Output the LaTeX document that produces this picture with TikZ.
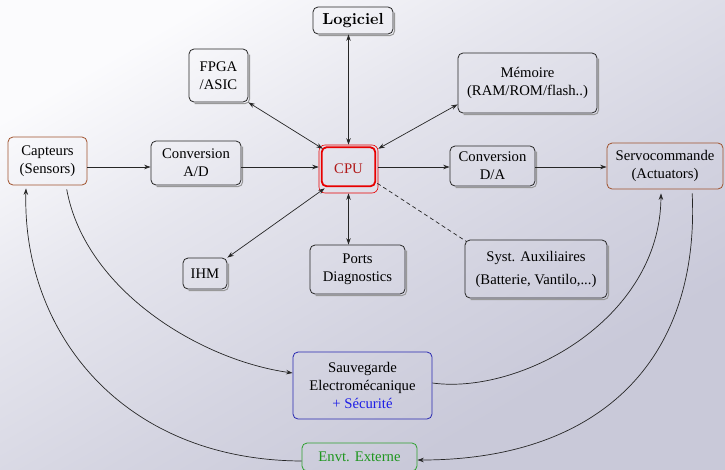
\documentclass[tikz,border=0pt]{standalone}
\usepackage{fontspec}
\setmainfont{Liberation Serif}
\newfontfamily\lmbold[Extension=.otf]{lmroman10-bold}
\usetikzlibrary{arrows.meta,calc}

% palette
\definecolor{bgA}{HTML}{FBFBFD}
\definecolor{bgB}{HTML}{E6E6EE}
\definecolor{bgC}{HTML}{D4D4E1}
\definecolor{bgD}{HTML}{C9C9D9}
\definecolor{brownline}{HTML}{A0522D}
\definecolor{blueline}{HTML}{2828B0}
\definecolor{bluetext}{HTML}{1E1EE6}
\definecolor{greenline}{HTML}{2EA02E}
\definecolor{greentext}{HTML}{1E961E}
\definecolor{cpured}{HTML}{E80000}
\definecolor{cputext}{HTML}{B01818}

\pgfdeclarehorizontalshading{backdrop}{100bp}{color(0bp)=(bgA); color(25bp)=(bgA);
  color(40bp)=(bgB); color(57bp)=(bgC); color(70bp)=(bgD); color(100bp)=(bgD)}

\tikzset{
  box/.style={draw=black!85, line width=0.8pt, rounded corners=5pt, align=center,
    inner sep=0pt, font=\fontsize{14.7}{18}\selectfont},
  shadowline/.style={draw=black!40, line width=1pt, rounded corners=5pt},
  link/.style={line width=0.7pt, draw=black!85, >={Stealth[length=6.5pt,width=4.5pt]}},
}

% thin drop shadow along the bottom and right edges of a box
\newcommand\boxshadow[1]{%
  \draw[shadowline] ([xshift=6pt,yshift=-1.3pt]#1.south west)
    -- ([xshift=1.3pt,yshift=-1.3pt]#1.south east)
    -- ([xshift=1.3pt,yshift=-6pt]#1.north east);}

\begin{document}
\begin{tikzpicture}[x=1pt,y=-1pt]
\useasboundingbox (0,0) rectangle (725,469);
\shade[shading=backdrop, shading angle=-60] (0,0) rectangle (725,469);

% blocks
\node[box, minimum width=80pt, minimum height=27pt] (logi) at (353,20.5)
  {\lmbold\fontsize{16}{18}\selectfont Logiciel};
\node[box, minimum width=59pt, minimum height=53pt] (fpga) at (218.5,75.5) {FPGA\\/ASIC};
\node[box, minimum width=139pt, minimum height=60pt] (mem) at (527.5,83)
  {Mémoire\\(RAM/ROM/flash..)};
\node[box, draw=brownline, minimum width=79pt, minimum height=48pt] (capt) at (47.5,161)
  {Capteurs\\(Sensors)};
\node[box, minimum width=90pt, minimum height=44pt] (ad) at (196,163) {Conversion\\A/D};
\node[box, draw=cpured, line width=0.6pt, rounded corners=6pt, text=cputext,
  minimum width=59pt, minimum height=48pt] (cpu) at (348.5,169) {CPU};
\draw[cpured, line width=1.8pt, rounded corners=5pt]
  ([shift={(3pt,-2.5pt)}]cpu.north west) rectangle ([shift={(-3pt,7pt)}]cpu.south east);
\node[box, minimum width=85pt, minimum height=40pt] (da) at (492.5,166) {Conversion\\D/A};
\node[box, draw=brownline, minimum width=116pt, minimum height=46pt] (servo) at (665,166)
  {Servocommande\\(Actuators)};
\node[box, minimum width=44pt, minimum height=31pt] (ihm) at (205,273.5) {IHM};
\node[box, minimum width=95pt, minimum height=49pt] (ports) at (357.5,269.5) {Ports\\Diagnostics};
\node[box, minimum width=142pt, minimum height=58pt] (aux) at (536,269)
  {Syst. Auxiliaires\\[5pt](Batterie, Vantilo,...)};
\node[box, draw=blueline, minimum width=139pt, minimum height=67pt] (sauv) at (362.5,385.5)
  {Sauvegarde\\Electromécanique\\\textcolor{bluetext}{+ Sécurité}};
\node[box, draw=greenline, text=greentext, minimum width=115pt, minimum height=28pt]
  (envt) at (359.5,457) {Envt. Externe};

\foreach \n in {logi,fpga,mem,ad,da,ihm,ports,aux} {\boxshadow{\n}}

% signal row
\coordinate (row) at (0,167);

% links around the CPU
\draw[link,<->] (cpu.north |- logi.south) -- (cpu.north);
\draw[link,<->] (fpga.south east) -- ([shift={(4pt,-4pt)}]cpu.north west);
\draw[link,<->] ([yshift=9pt]mem.south west) -- ([yshift=-4pt]cpu.north east);
\draw[link,->] (capt.east |- row) -- (ad.west |- row);
\draw[link,->] (ad.east |- row) -- (cpu.west |- row);
\draw[link,->] (cpu.east |- row) -- (da.west |- row);
\draw[link,->] (da.east |- row) -- (servo.west |- row);
\draw[link,<->] ([shift={(6pt,5pt)}]cpu.south west) -- (ihm.north east);
\draw[link,<->] (cpu.south) -- (cpu.south |- ports.north);
\draw[link,dash pattern=on 4pt off 3pt] ([shift={(-1pt,10pt)}]cpu.south east)
  -- ([shift={(2pt,-2pt)}]aux.north west);

% safety and environment loops
\draw[link,->,shorten <=4pt] ([xshift=18.5pt]capt.south)
  .. controls (85,290) and (200,360) .. ([yshift=12.5pt]sauv.west);
\draw[link,->] ([yshift=2.5pt]sauv.east)
  .. controls (520,395) and (660,320) .. ([xshift=-4pt,yshift=-4pt]servo.south);
\draw[link,->,shorten <=4pt] ([xshift=27pt]servo.south)
  .. controls (700,360) and (600,460) .. ([yshift=-3pt]envt.east);
\draw[link,->] ([yshift=-4pt]envt.west)
  .. controls (120,460) and (22,330) .. ([xshift=-21.5pt,yshift=-3pt]capt.south);
\end{tikzpicture}
\end{document}
